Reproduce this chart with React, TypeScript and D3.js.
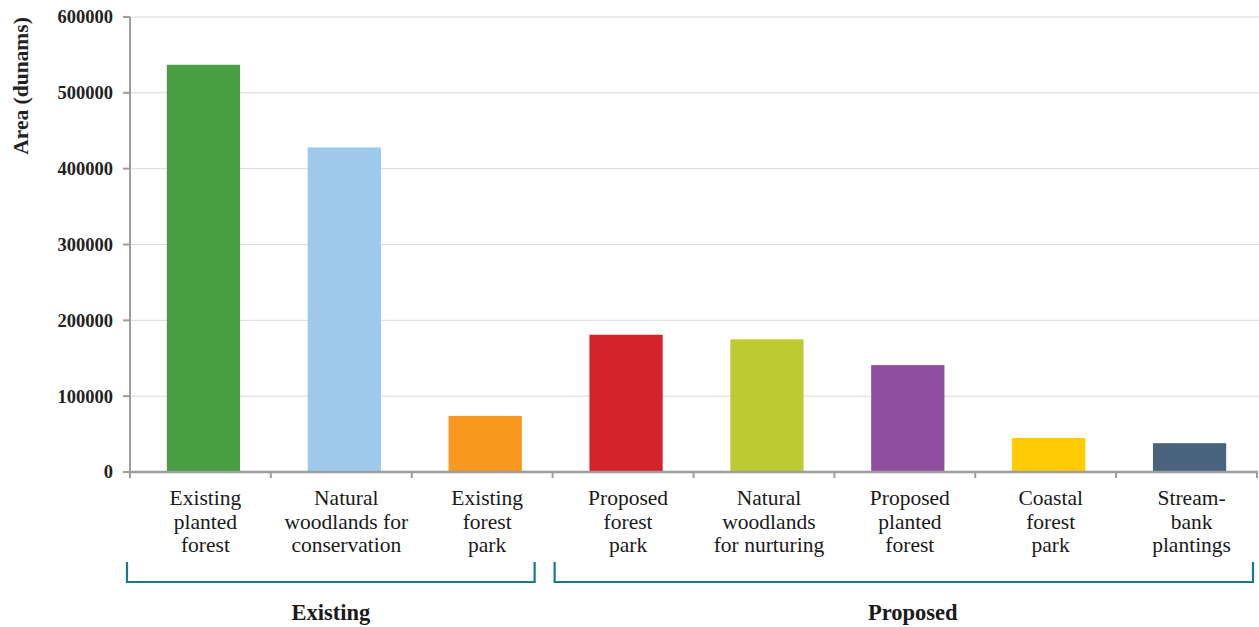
import React from "react";
import * as d3 from "d3";

const categories = [
  "Existing planted forest",
  "Natural woodlands for conservation",
  "Existing forest park",
  "Proposed forest park",
  "Natural woodlands for nurturing",
  "Proposed planted forest",
  "Coastal forest park",
  "Stream-bank plantings",
];

const labelLines = [
  ["Existing", "planted", "forest"],
  ["Natural", "woodlands for", "conservation"],
  ["Existing", "forest", "park"],
  ["Proposed", "forest", "park"],
  ["Natural", "woodlands", "for nurturing"],
  ["Proposed", "planted", "forest"],
  ["Coastal", "forest", "park"],
  ["Stream-", "bank", "plantings"],
];

const areas = [537000, 428000, 74000, 181000, 175000, 141000, 45000, 38000];

const barColors = [
  "#4a9f44",
  "#9fc9eb",
  "#f7981f",
  "#d3242b",
  "#bdcb33",
  "#8f4f9e",
  "#fecb06",
  "#4a6480",
];

const groups = [
  { name: "Existing", from: 0, to: 2 },
  { name: "Proposed", from: 3, to: 7 },
];

const yTicks = [0, 100000, 200000, 300000, 400000, 500000, 600000];

const W = 1259;
const H = 627;
const FONT = "'Liberation Serif', 'DejaVu Serif', serif";

export default function App() {
  const x = d3
    .scaleBand<string>()
    .domain(categories)
    .range([130, 1257])
    .paddingInner(0)
    .paddingOuter(0);

  const y = d3.scaleLinear().domain([0, 600000]).range([472, 17]);

  const bw = x.bandwidth();
  const barW = bw * 0.52;
  const axisColor = "#9d9d9d";
  const bracketColor = "#17798b";

  return (
    <div style={{ position: "absolute", left: 0, top: 0 }}>
      <svg width={W} height={H} style={{ display: "block" }} fontFamily={FONT}>
        <rect width={W} height={H} fill="#ffffff" />

        {/* grid */}
        {yTicks.slice(1).map((t) => (
          <line
            key={"g" + t}
            x1={130}
            x2={W}
            y1={y(t)}
            y2={y(t)}
            stroke="#d9d9d9"
            strokeWidth={1}
          />
        ))}

        {/* bars */}
        {categories.map((c, i) => (
          <rect
            key={c}
            x={(x(c) || 0) + (bw - barW) / 2 + 3}
            y={y(areas[i])}
            width={barW}
            height={y(0) - y(areas[i])}
            fill={barColors[i]}
          />
        ))}

        {/* y axis */}
        <line x1={130} x2={130} y1={y(600000)} y2={y(0)} stroke={axisColor} strokeWidth={2} />
        {yTicks.map((t) => (
          <g key={"t" + t}>
            <line x1={123} x2={130} y1={y(t)} y2={y(t)} stroke={axisColor} strokeWidth={2} />
            <text
              x={113}
              y={y(t)}
              dy="0.35em"
              textAnchor="end"
              fontSize={18.5}
              fontWeight="bold"
              fill="#222"
            >
              {t}
            </text>
          </g>
        ))}
        <text
          transform={`translate(28,86) rotate(-90)`}
          textAnchor="middle"
          fontSize={21.5}
          fontWeight="bold"
          fill="#222"
        >
          Area (dunams)
        </text>

        {/* x axis */}
        <line x1={129} x2={1258} y1={y(0)} y2={y(0)} stroke={axisColor} strokeWidth={2.5} />
        {categories.map((c) => (
          <line
            key={"xt" + c}
            x1={x(c) || 0}
            x2={x(c) || 0}
            y1={y(0)}
            y2={y(0) + 6}
            stroke={axisColor}
            strokeWidth={2}
          />
        ))}
        <line x1={1257} x2={1257} y1={y(0)} y2={y(0) + 6} stroke={axisColor} strokeWidth={2} />

        {/* category labels */}
        {categories.map((c, i) => (
          <text
            key={"l" + c}
            x={(x(c) || 0) + bw / 2 + 5}
            y={505}
            textAnchor="middle"
            fontSize={21.5}
            fill="#1a1a1a"
          >
            {labelLines[i].map((ln, j) => (
              <tspan key={j} x={(x(c) || 0) + bw / 2 + 5} dy={j === 0 ? 0 : 23.5}>
                {ln}
              </tspan>
            ))}
          </text>
        ))}

        {/* group brackets */}
        {groups.map((g, gi) => {
          const x0 = (x(categories[g.from]) || 0) + (gi === 0 ? -3 : 2);
          const x1 = (x(categories[g.to]) || 0) + bw - (gi === 0 ? 18 : 4);
          return (
            <g key={g.name}>
              <path
                d={`M${x0},562 V582 H${x1} V562`}
                fill="none"
                stroke={bracketColor}
                strokeWidth={2.2}
              />
              <text
                x={(x0 + x1) / 2 + (gi === 0 ? 0 : 9)}
                y={620}
                textAnchor="middle"
                fontSize={22.5}
                fontWeight="bold"
                fill="#1a1a1a"
              >
                {g.name}
              </text>
            </g>
          );
        })}
      </svg>
    </div>
  );
}
